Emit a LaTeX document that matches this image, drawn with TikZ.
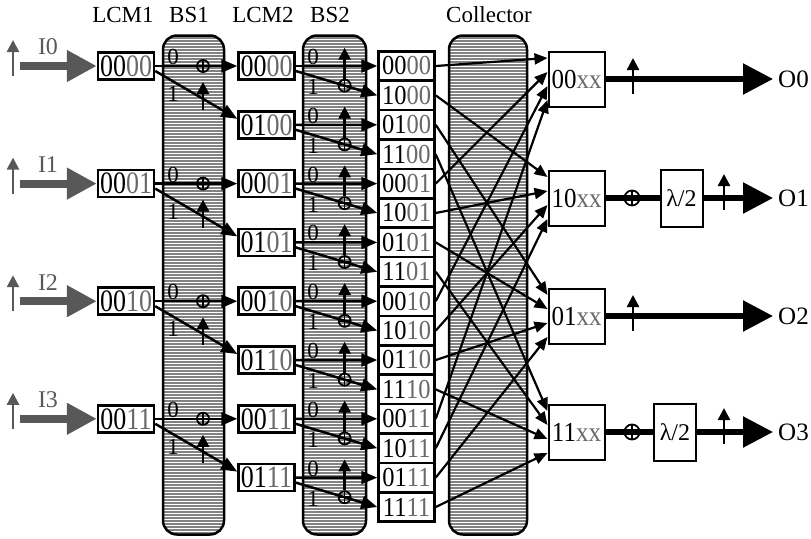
\documentclass[tikz,border=0pt]{standalone}
\usepackage{fontspec}
\setmainfont{Liberation Serif}
\usetikzlibrary{arrows.meta,calc}
\definecolor{dgray}{RGB}{105,105,105}
\definecolor{igray}{RGB}{88,88,88}
\definecolor{colfill}{RGB}{130,130,130}
\newcommand{\bt}[2]{#1\textcolor{dgray}{#2}}
\newcommand{\tallbt}[3]{\scalebox{1}[#1]{\bt{#2}{#3}}}
\begin{document}
\begin{tikzpicture}[x=1pt,y=-1pt,
  hdr/.style={font=\fontsize{23}{23}\selectfont, anchor=base, inner sep=0pt},
  colbox/.style={draw, line width=2.5pt, rounded corners=14pt, fill=colfill, minimum height=499pt, inner sep=0pt,
    path picture={\foreach \s in {0,...,170}{\draw[-,white,line width=1.1pt] ([yshift=-\s*3pt-1pt]path picture bounding box.north west) -- ([yshift=-\s*3pt-1pt]path picture bounding box.north east);}}},
  lbox/.style={draw, line width=2.5pt, minimum width=56pt, minimum height=27pt, inner sep=0pt, font=\fontsize{26}{26}\selectfont, fill=white},
  cbox/.style={draw, line width=2.5pt, minimum width=56pt, minimum height=29.4pt, inner sep=0pt, font=\fontsize{24.5}{24}\selectfont, fill=white},
  obox/.style={draw, line width=2pt, minimum width=56pt, minimum height=55pt, inner sep=0pt, font=\fontsize{25}{25}\selectfont, fill=white},
  hbox/.style={draw, line width=2pt, minimum width=42pt, minimum height=57pt, inner sep=0pt, font=\fontsize{24}{24}\selectfont, fill=white},
  oplus/.style={circle, draw, line width=1.8pt, minimum size=12pt, inner sep=0pt,
    path picture={\draw[-,line width=1.5pt] (path picture bounding box.north) -- (path picture bounding box.south) (path picture bounding box.west) -- (path picture bounding box.east);}},
  oplusB/.style={oplus, minimum size=15pt},
  beam/.style={line width=2.5pt, -{Triangle[length=16pt,width=13pt]}},
  pol/.style={line width=2.5pt, -{Triangle[length=12pt,width=12pt]}},
  cline/.style={line width=2.2pt, -{Triangle[length=13pt,width=11pt]}},
  inarrow/.style={igray, line width=8pt, -{Triangle[length=30pt,width=30pt]}},
  ipol/.style={igray, line width=2.5pt, -{Triangle[length=12pt,width=12pt]}},
  ilabel/.style={igray, font=\fontsize{24}{24}\selectfont, inner sep=0pt},
  bitlbl/.style={font=\fontsize{23}{23}\selectfont, inner sep=0pt},
  outl/.style={line width=5.5pt},
  outarrow/.style={line width=5.5pt, -{Triangle[length=30pt,width=30pt]}},
  olabel/.style={font=\fontsize{25}{25}\selectfont, anchor=west, inner sep=0pt}
]
\useasboundingbox (0,0) rectangle (811,538);

% headers
\node[hdr] (h-lcm1) at (123,22) {LCM1};
\node[hdr] (h-bs1) at (189,22) {BS1};
\node[hdr] (h-lcm2) at (263,22) {LCM2};
\node[hdr] (h-bs2) at (330,22) {BS2};
\node[hdr] (h-coll) at (489,22) {Collector};

% columns
\node[colbox, minimum width=61pt] (bs1) at (193.5,285) {};
\node[colbox, minimum width=63pt] (bs2) at (334.5,285) {};
\node[colbox, minimum width=78pt] (coll) at (488,285) {};

% LCM1 boxes
\foreach \j/\a/\b in {0/00/00,1/00/01,2/00/10,3/00/11} {
  \pgfmathsetmacro{\yy}{66+117.6*\j}
  \node[lbox] (l1-\j) at (126,\yy) {\tallbt{1.2}{\a}{\b}};
}
% LCM2 boxes
\foreach \k/\a/\b in {0/00/00,1/01/00,2/00/01,3/01/01,4/00/10,5/01/10,6/00/11,7/01/11} {
  \pgfmathsetmacro{\yy}{66+58.8*\k}
  \node[lbox] (l2-\k) at (266.5,\yy) {\tallbt{1.2}{\a}{\b}};
}
% collector boxes
\foreach \i/\a/\b in {0/00/00,1/10/00,2/01/00,3/11/00,4/00/01,5/10/01,6/01/01,7/11/01,8/00/10,9/10/10,10/01/10,11/11/10,12/00/11,13/10/11,14/01/11,15/11/11} {
  \pgfmathsetmacro{\yy}{66+29.4*\i}
  \node[cbox] (c-\i) at (406.5,\yy) {\tallbt{1.12}{\a}{\b}};
}
% output boxes
\foreach \m/\a/\yy in {0/00/79,1/10/198,2/01/316,3/11/432} {
  \node[obox] (o-\m) at (576.5,\yy) {\tallbt{1.1}{\a}{xx}};
}

% inputs
\foreach \j in {0,...,3} {
  \pgfmathsetmacro{\yy}{66+117.6*\j}
  \coordinate (in-\j) at (20,\yy);
  \draw[inarrow] (in-\j) -- (l1-\j.west);
  \node[ilabel] (il-\j) at (48,\yy-19) {I\j};
  \coordinate (ip-\j) at (13,\yy+10);
  \draw[ipol] (ip-\j) -- ++(0,-36);
}

% BS1
\foreach \j in {0,...,3} {
  \pgfmathsetmacro{\yy}{66+117.6*\j}
  \pgfmathtruncatemacro{\ka}{2*\j}
  \pgfmathtruncatemacro{\kb}{2*\j+1}
  \draw[beam] (l1-\j.east) -- (l2-\ka.west);
  \draw[beam] ([yshift=-5pt]l1-\j.east) -- ([yshift=6pt]l2-\kb.west);
  \node[oplus] (x1-\j) at (203,\yy) {};
  \node[bitlbl] (b1z-\j) at (173,\yy-9) {0};
  \node[bitlbl] (b1o-\j) at (173,\yy+28) {1};
  \coordinate (p1-\j) at (203,\yy+44);
  \draw[pol] (p1-\j) -- ++(0,-28);
}

% BS2
\foreach \k in {0,...,7} {
  \pgfmathsetmacro{\yy}{66+58.8*\k}
  \pgfmathtruncatemacro{\ia}{2*\k}
  \pgfmathtruncatemacro{\ib}{2*\k+1}
  \draw[beam] (l2-\k.east) -- (c-\ia.west);
  \draw[beam] ([yshift=-5pt]l2-\k.east) -- (c-\ib.west);
  \node[oplus] (x2-\k) at ($([yshift=-5pt]l2-\k.east)!0.6!(c-\ib.west)$) {};
  \draw[pol] (x2-\k.north) -- ++(0,-31);
  \node[bitlbl] (b2z-\k) at (313,\yy-9) {0};
  \node[bitlbl] (b2o-\k) at (313,\yy+21) {1};
}

% collector connections
\foreach \i in {0,...,15} {
  \pgfmathtruncatemacro{\m}{mod(\i,4)}
  \pgfmathtruncatemacro{\q}{div(\i,4)}
  \pgfmathsetmacro{\dy}{21-14*\q}
  \draw[cline] (c-\i.east) -- ([yshift=\dy pt]o-\m.west);
}

% outputs
\foreach \m/\yy in {0/79,1/198,2/316,3/432} {
  \coordinate (t-\m) at (773,\yy);
  \node[olabel] (ol-\m) at (778,\yy) {O\m};
}
\node[hbox] (h-1) at (681.5,198) {λ/2};
\node[hbox] (h-3) at (675,432) {λ/2};

\draw[outarrow] (o-0.east) -- (t-0);
\draw[outarrow] (o-2.east) -- (t-2);
\draw[outl] (o-1.east) -- (h-1.west);
\draw[outl] (o-3.east) -- (h-3.west);
\draw[outarrow] (h-1.east) -- (t-1);
\draw[outarrow] (h-3.east) -- (t-3);
\node[oplusB] (ox-1) at (632,198) {};
\node[oplusB] (ox-3) at (632,432) {};

\coordinate (q-0) at (633,94);
\coordinate (q-2) at (633,331);
\coordinate (q-1) at (724,210);
\coordinate (q-3) at (724,444);
\foreach \m in {0,...,3} {
  \draw[pol] (q-\m) -- ++(0,-36);
}
\end{tikzpicture}
\end{document}
